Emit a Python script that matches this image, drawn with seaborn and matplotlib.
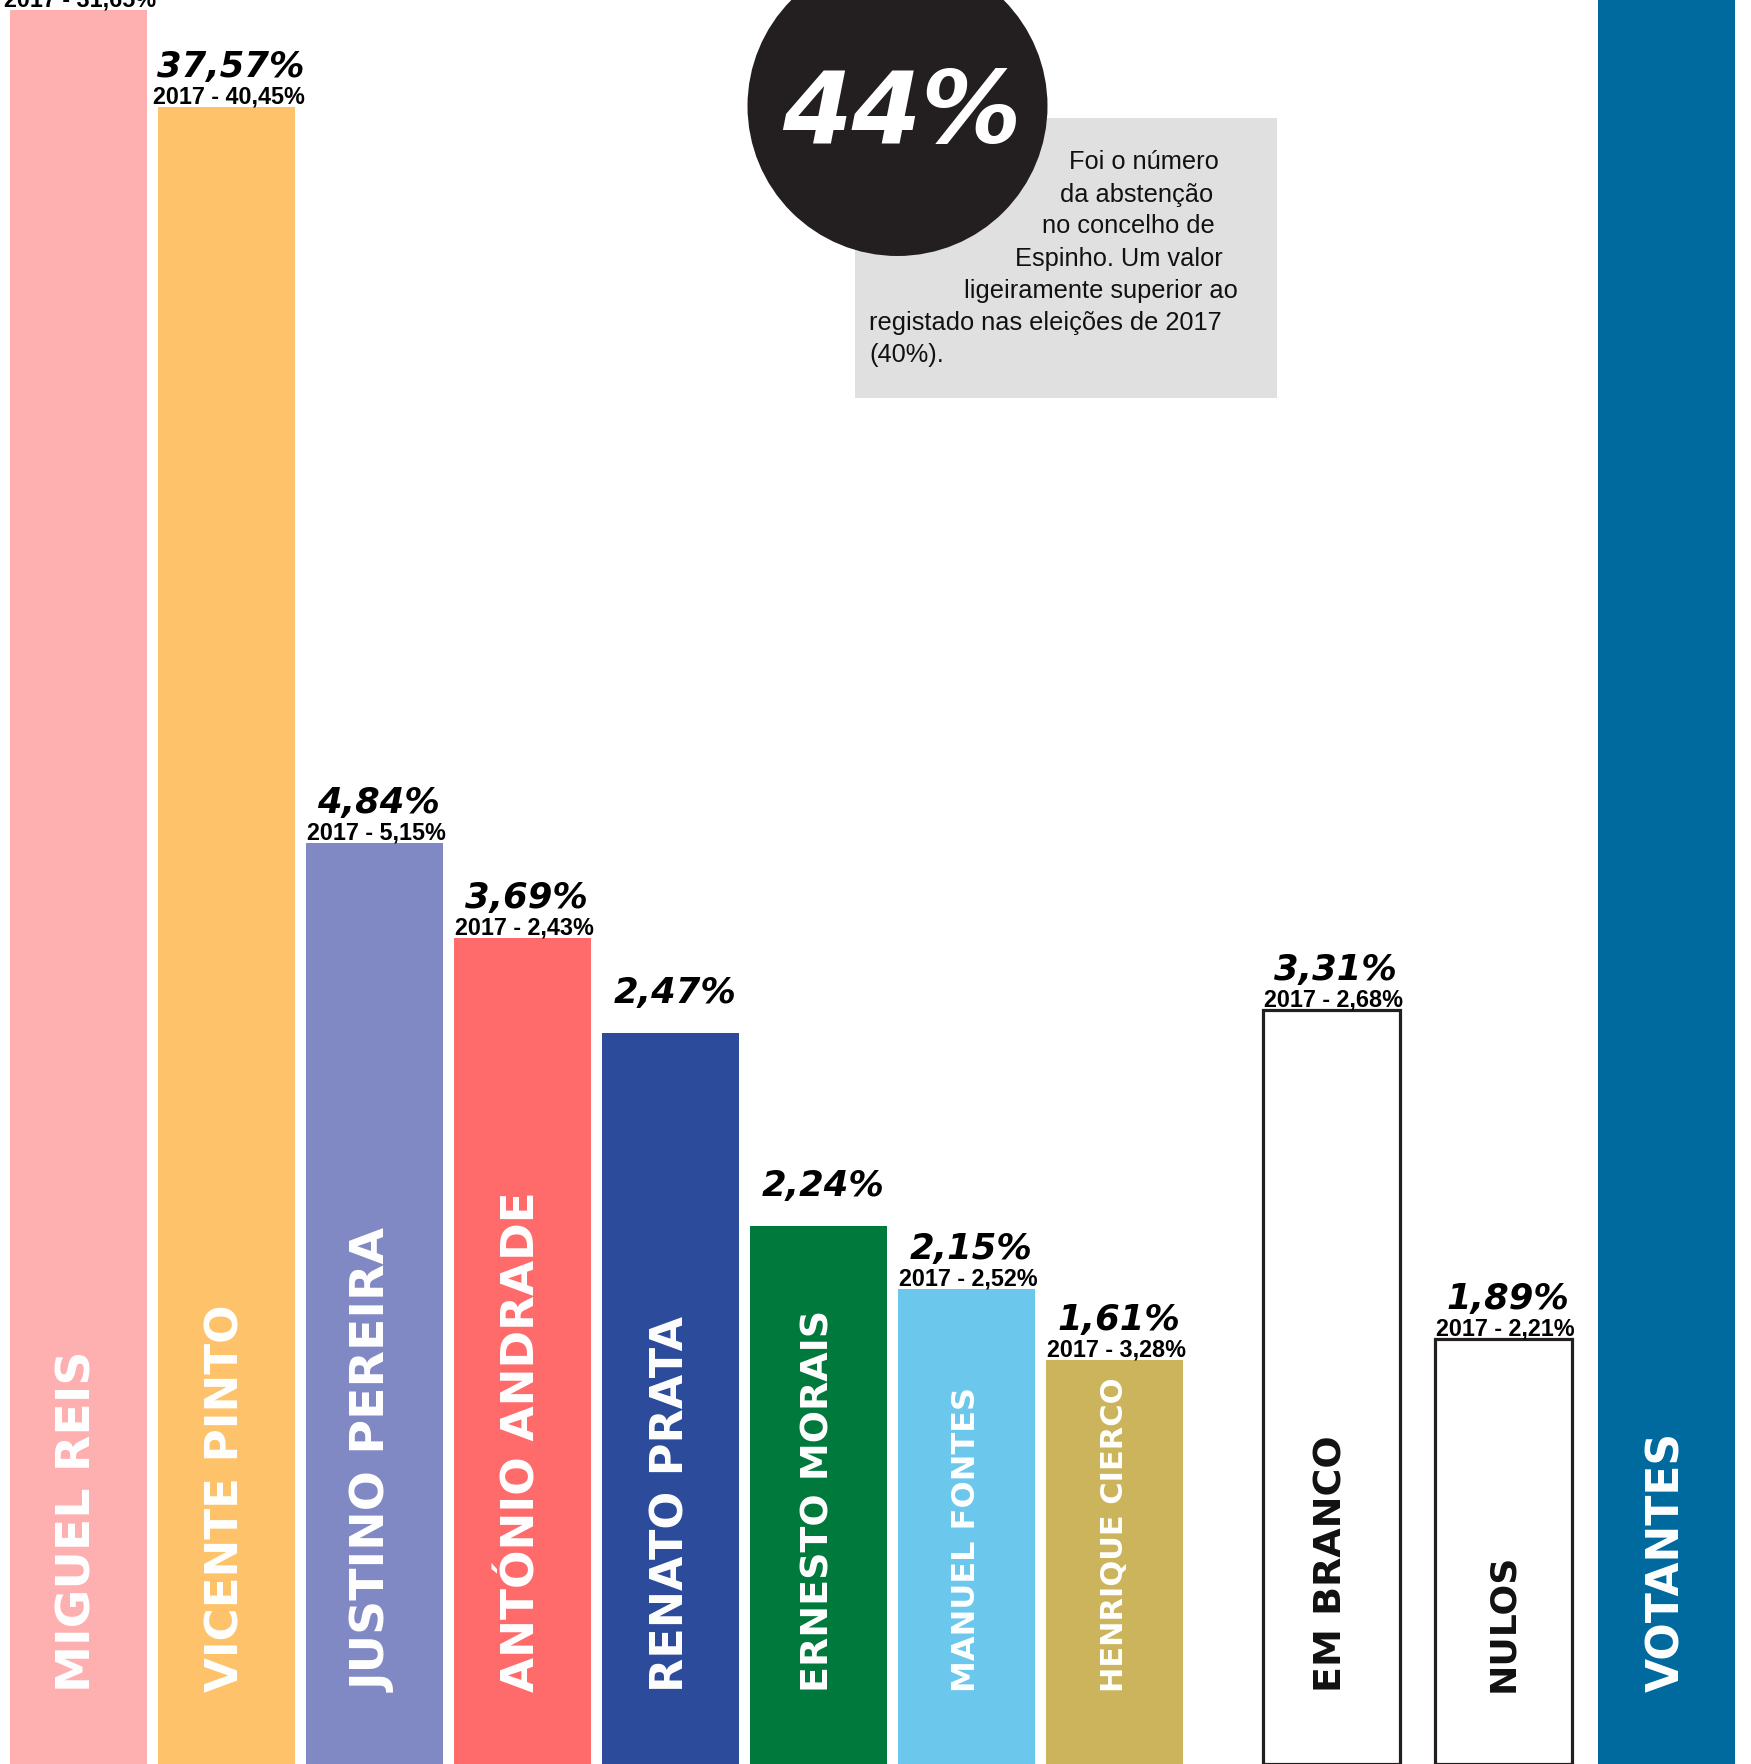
import matplotlib
matplotlib.use("Agg")
import matplotlib.pyplot as plt
from matplotlib.patches import Ellipse, Rectangle
import seaborn as sns
import pandas as pd

# ---------------- data ----------------
names = ["MIGUEL REIS", "VICENTE PINTO", "JUSTINO PEREIRA", "ANTÓNIO ANDRADE",
         "RENATO PRATA", "ERNESTO MORAIS", "MANUEL FONTES", "HENRIQUE CIERCO",
         "EM BRANCO", "NULOS", "VOTANTES"]
# visual bar heights in the graphic (percent of the visible chart height)
bar_heights = [99.4, 93.9, 52.2, 46.8, 41.4, 30.5, 26.9, 22.9, 42.7, 24.1, 105.0]
value_labels = ["", "37,57%", "4,84%", "3,69%", "2,47%", "2,24%", "2,15%",
                "1,61%", "3,31%", "1,89%", ""]
labels_2017 = ["2017 - 31,65%", "2017 - 40,45%", "2017 - 5,15%", "2017 - 2,43%",
               "", "", "2017 - 2,52%", "2017 - 3,28%", "2017 - 2,68%",
               "2017 - 2,21%", ""]
abstention_label = "44%"
abstention_text = ["Foi o número", "da abstenção", "no concelho de",
                   "Espinho. Um valor", "ligeiramente superior ao",
                   "registado nas eleições de 2017", "(40%)."]

# ---------------- layout / style ----------------
x_pos = [0, 1, 2, 3, 4, 5, 6, 7, 8.466, 9.628, 10.73]
colors = ["#feb0b1", "#fec36a", "#8189c4", "#ff6b6b", "#2c4b9a", "#00793c",
          "#6cc7ec", "#cbb45b", "#ffffff", "#ffffff", "#006a9f"]
outlined = [False] * 8 + [True, True, False]
name_colors = ["white"] * 8 + ["#111111", "#111111", "white"]
name_sizes = [34, 32.5, 34, 32.7, 32, 27.4, 23, 22, 27.4, 26, 31.7]
ink = "#231f20"

W, H = 1751, 1765
sns.set_theme(style="white")
plt.rcParams["font.family"] = ["DejaVu Sans"]

fig = plt.figure(figsize=(W / 100, H / 100), dpi=100)
ax = fig.add_axes([0, 0, 1, 1])

df = pd.DataFrame({"pos": x_pos, "height": bar_heights, "name": names})
sns.barplot(data=df, x="pos", y="height", hue="name", palette=dict(zip(names, colors)),
            native_scale=True, orient="x", width=0.926, errorbar=None,
            legend=False, ax=ax, saturation=1)

ax.set_xlim(-0.530, 11.30)
ax.set_ylim(0, 100)
ax.axis("off")

# style outlined bars
for patch, o in zip(sorted(ax.patches, key=lambda p: p.get_x()), outlined):
    if o:
        patch.set_edgecolor(ink)
        patch.set_linewidth(2.3)
    else:
        patch.set_linewidth(0)

# labels
for x, h, v, l17, nm, nc, ns in zip(x_pos, bar_heights, value_labels, labels_2017,
                                     names, name_colors, name_sizes):
    if l17:
        ax.annotate(l17, (x, h), xytext=(1.5, 3.2), textcoords="offset points",
                    ha="center", va="baseline", fontsize=16.8, fontweight="bold",
                    family=["Liberation Sans", "DejaVu Sans"], color="black")
    if v:
        ax.annotate(v, (x, h), xytext=(3, 22.3), textcoords="offset points",
                    ha="center", va="baseline", fontsize=25.5, fontweight="heavy",
                    fontstyle="italic", color="black")
    ax.text(x, 4.14, nm, rotation=90, ha="center", va="bottom",
            fontsize=ns, fontweight="heavy", color=nc)

# abstention annotation (grey box + black circle)
box = Rectangle((855 / W, 1 - 399 / H), (1277 - 855) / W, (399 - 119) / H,
                transform=ax.transAxes, facecolor="#e1e0e1", edgecolor="none", zorder=3)
ax.add_patch(box)
circ = Ellipse((897.5 / W, 1 - 107 / H), 300 / W, 300 / H, transform=ax.transAxes,
               facecolor=ink, edgecolor="none", zorder=4)
ax.add_patch(circ)
ax.text(902 / W, 1 - 143 / H, abstention_label, transform=ax.transAxes,
        ha="center", va="baseline", fontsize=72, fontweight="heavy",
        fontstyle="italic", color="white", zorder=5)

line_left = [1069, 1060, 1042, 1015, 964, 869, 869]
line_y = [162, 195, 226, 259, 291, 323, 355]
for t, lx, ly in zip(abstention_text, line_left, line_y):
    ax.text(lx / W, 1 - ly / H, t, transform=ax.transAxes, ha="left", va="center",
            fontsize=18.3, family=["Liberation Sans", "DejaVu Sans"], color="#111111",
            zorder=5)

fig.savefig("out.png", dpi=100)
